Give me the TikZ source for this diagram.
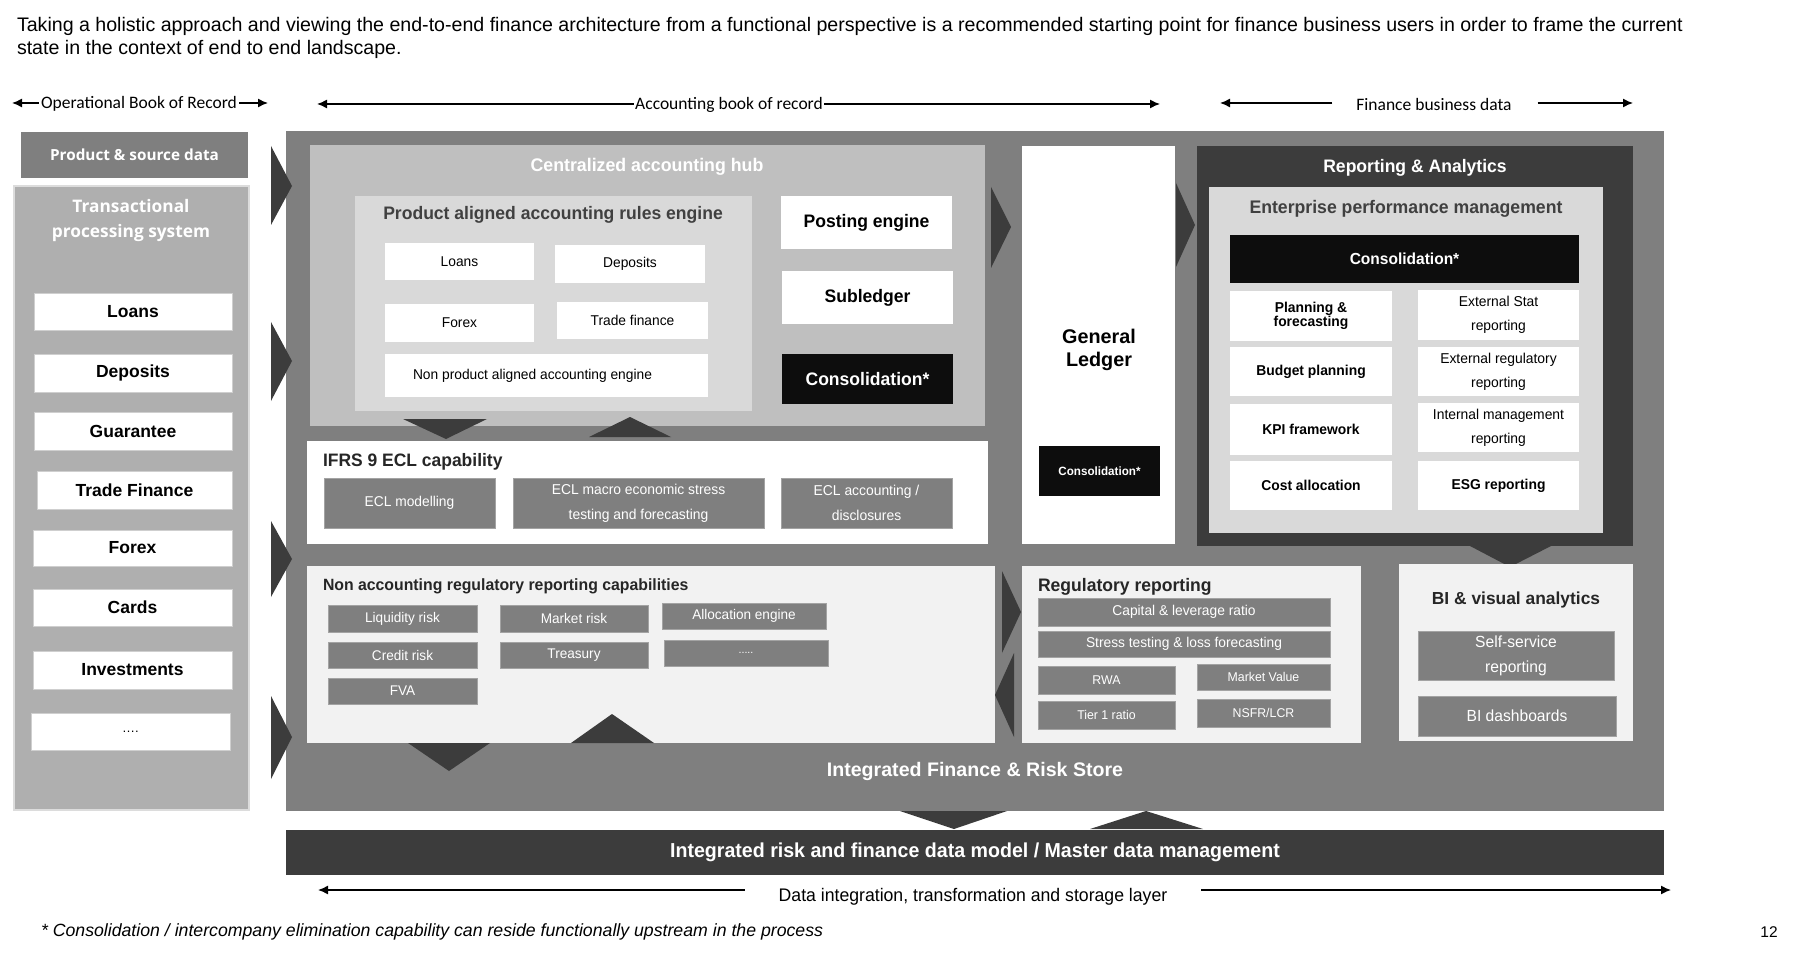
\documentclass[tikz,border=0pt]{standalone}
\usepackage{fontspec}
\setmainfont{Liberation Sans}
\newfontfamily\narrowfont[FakeStretch=0.97]{Liberation Sans}
\newfontfamily\calfont{Carlito}
\newfontfamily\opensans{Open Sans}
\usetikzlibrary{arrows.meta}

\definecolor{midgray}{HTML}{7F7F7F}
\definecolor{hubgray}{HTML}{BFBFBF}
\definecolor{panelgray}{HTML}{D9D9D9}
\definecolor{leftgray}{HTML}{AFAFAF}
\definecolor{leftedge}{HTML}{DCDCDC}
\definecolor{darkgray}{HTML}{3C3C3C}
\definecolor{nearblack}{HTML}{0D0D0D}
\definecolor{paleback}{HTML}{F2F2F2}
\definecolor{titletext}{HTML}{262626}
\definecolor{softtext}{HTML}{404040}
\definecolor{boxedge}{HTML}{CFCFCF}
\definecolor{grayedge}{HTML}{A3A3A3}

% font size helper: size and baseline skip in pt
\newcommand\fsz[2]{\fontsize{#1}{#2}\selectfont}
% box by corners: style, name, x1, y1, x2, y2, text
\newcommand\bx[7]{\node[#1,minimum width={(#5)-(#3)},minimum height={(#6)-(#4)}] (#2) at ({((#3)+(#5))/2},{((#4)+(#6))/2}) {#7};}
% filled chevron triangle
\newcommand\chev[6]{\fill[darkgray] (#1,#2) -- (#3,#4) -- (#5,#6) -- cycle;}

\begin{document}
\begin{tikzpicture}[x=1pt,y=-1pt,
  base/.style={rectangle,inner sep=0pt,outer sep=0pt,align=center},
  whitebox/.style={base,fill=white,draw=boxedge,line width=0.8pt},
  graybox/.style={base,fill=midgray,draw=grayedge,line width=0.8pt,text=white},
  blackbox/.style={base,fill=nearblack,text=white},
  plain/.style={inner sep=0pt,outer sep=0pt,align=center},
  lbl/.style={fill=white,inner sep=3pt,outer sep=0pt},
  span/.style={draw=black,line width=1.4pt},
  tip/.style={-{Latex[length=10pt,width=9pt]}},
  nb/.style={font=\narrowfont\bfseries\fsz{18.1}{20}},
  ns/.style={font=\narrowfont\fsz{14.2}{23}},
  sideitem/.style={whitebox,font=\bfseries\fsz{17.5}{20}},
]
\useasboundingbox (0,0) rectangle (1801,965);

% intro text
\node[plain,anchor=north west,align=left,font=\fsz{19.6}{23}] (intro) at (17,17)
  {Taking a holistic approach and viewing the end-to-end finance architecture from a functional perspective is a recommended starting point for finance business users in order to frame the current\\state in the context of end to end landscape.};

% scope arrows along the top
\coordinate (obrL) at (12,103);
\coordinate (obrR) at (268,103);
\draw[span,{Latex[length=10pt,width=9pt]}-{Latex[length=10pt,width=9pt]}] (obrL) -- (obrR);
\node[lbl,inner sep=2pt,font=\calfont\fsz{17.5}{20}] (obr) at (139,104) {Operational Book of Record};

\coordinate (abrL) at (317,104);
\coordinate (abrR) at (1160,104);
\draw[span,{Latex[length=10pt,width=9pt]}-{Latex[length=10pt,width=9pt]}] (abrL) -- (abrR);
\node[lbl,inner sep=1pt,font=\calfont\fsz{17.5}{20}] (abr) at (729,105) {Accounting book of record};

\node[plain,font=\calfont\fsz{17.5}{20}] (fbd) at (1434,104) {Finance business data};
\coordinate (fbdL) at (1220,103);
\coordinate (fbdR) at (1633,103);
\draw[span,tip] ([xshift=-24pt]fbd.west |- fbdL) -- (fbdL);
\draw[span,tip] ([xshift=26pt]fbd.east |- fbdR) -- (fbdR);

% operational side
\bx{base,fill=midgray,text=white,font=\opensans\bfseries\fsz{15.3}{17}}{psd}{21}{132}{248}{178}{Product \& source data}
\bx{base,fill=leftgray,draw=leftedge,line width=2.5pt}{tps}{14}{186}{249}{810}{}
\node[plain,text=white,font=\opensans\bfseries\fsz{17.3}{25}] (tpsT) at (131,221) {Transactional\\processing system};
\bx{sideitem}{tLoans}{34}{293}{232}{330}{Loans}
\bx{sideitem}{tDep}{34}{354}{232}{392}{Deposits}
\bx{sideitem}{tGuar}{34}{412}{232}{450}{Guarantee}
\bx{sideitem}{tTrade}{37}{471}{232}{509}{Trade Finance}
\bx{sideitem}{tFx}{33}{530}{232}{566}{Forex}
\bx{sideitem}{tCards}{33}{589}{232}{626}{Cards}
\bx{sideitem}{tInv}{33}{651}{232}{689}{Investments}
\bx{whitebox,font=\fsz{13}{16}}{tMore}{31}{713}{230}{750}{\dots.}

% finance and risk store
\bx{base,fill=midgray}{store}{286}{131}{1664}{811}{}
\node[plain,text=white,font=\bfseries\fsz{19.6}{22}] (storeT) at (975,771) {Integrated Finance \& Risk Store};

% feeds into the store
\chev{271}{146}{271}{225}{292}{186}
\chev{271}{322}{271}{401}{292}{361}
\chev{271}{521}{271}{597}{292}{559}
\chev{271}{696}{271}{779}{292}{737}

% centralized accounting hub
\bx{base,fill=hubgray}{hub}{310}{145}{985}{426}{}
\node[plain,text=white,font=\narrowfont\bfseries\fsz{18.3}{22}] (hubT) at (647,167) {Centralized accounting hub};
\bx{base,fill=panelgray}{rules}{355}{196}{752}{411}{}
\node[plain,text=softtext,nb] (rulesT) at (553,215) {Product aligned accounting rules engine};
\bx{whitebox,draw=none,ns}{rLoans}{385}{243}{534}{280}{Loans}
\bx{whitebox,draw=none,ns}{rDep}{555}{245}{705}{283}{Deposits}
\bx{whitebox,draw=none,ns}{rFx}{385}{304}{534}{342}{Forex}
\bx{whitebox,draw=none,ns}{rTrade}{557}{302}{708}{339}{Trade finance}
\bx{whitebox,draw=none,ns}{rNon}{385}{354}{708}{397}{\hspace*{-28pt}Non product aligned accounting engine}
\bx{whitebox,draw=none,nb}{post}{781}{196}{952}{249}{Posting engine}
\bx{whitebox,draw=none,nb}{subl}{782}{271}{953}{324}{Subledger}
\bx{blackbox,nb}{hubCons}{782}{354}{953}{404}{Consolidation*}
\chev{403}{419}{487}{419}{446}{439}
\chev{589}{437}{671}{437}{630}{417}

% IFRS 9
\bx{base,fill=white}{ifrs}{307}{441}{988}{544}{}
\node[plain,anchor=west,text=titletext,font=\narrowfont\bfseries\fsz{18}{20}] (ifrsT) at (323,462) {IFRS 9 ECL capability};
\bx{graybox,ns}{eclMod}{324}{478}{495}{528}{ECL modelling}
\bx{graybox,font=\narrowfont\fsz{14.3}{25}}{eclMac}{513}{478}{764}{528}{ECL macro economic stress\\testing and forecasting}
\bx{graybox,font=\narrowfont\fsz{14.3}{25}}{eclAcc}{781}{478}{952}{528}{ECL accounting /\\disclosures}

% non accounting regulatory reporting
\bx{base,fill=paleback}{nonacc}{307}{566}{995}{743}{}
\node[plain,anchor=west,text=titletext,font=\narrowfont\bfseries\fsz{16.3}{20}] (nonaccT) at (323,586) {Non accounting regulatory reporting capabilities};
\bx{graybox,font=\narrowfont\fsz{14}{16}}{nLiq}{328}{605}{477}{632}{Liquidity risk}
\bx{graybox,font=\narrowfont\fsz{14}{16}}{nMkt}{500}{605}{648}{632}{Market risk}
\bx{graybox,font=\narrowfont\fsz{14}{16}}{nAlloc}{662}{603}{826}{629}{Allocation engine}
\bx{graybox,font=\narrowfont\fsz{14}{16}}{nCred}{328}{642}{477}{668}{Credit risk}
\bx{graybox,font=\narrowfont\fsz{14}{16}}{nTreas}{500}{642}{648}{668}{Treasury}
\bx{graybox,font=\narrowfont\fsz{11}{14}}{nMore}{664}{640}{828}{666}{.....}
\bx{graybox,font=\narrowfont\fsz{14}{16}}{nFva}{328}{678}{477}{704}{FVA}
\chev{408}{743}{490}{743}{449}{771}
\chev{571}{743}{654}{743}{612}{714}

% general ledger
\chev{991}{187}{991}{268}{1011}{227}
\bx{base,fill=white}{gl}{1022}{146}{1175}{544}{}
\node[plain,font=\bfseries\fsz{19.8}{23}] (glT) at (1099,350) {General\\Ledger};
\bx{blackbox,font=\narrowfont\bfseries\fsz{12}{14}}{glCons}{1039}{446}{1160}{496}{Consolidation*}
\chev{1176}{183}{1176}{267}{1195}{225}

% reporting and analytics
\bx{base,fill=darkgray}{ra}{1197}{146}{1633}{546}{}
\node[plain,text=white,nb] (raT) at (1415,168) {Reporting \& Analytics};
\bx{base,fill=panelgray}{epm}{1209}{187}{1603}{533}{}
\node[plain,text=softtext,font=\narrowfont\bfseries\fsz{18.2}{20}] (epmT) at (1406,209) {Enterprise performance management};
\bx{blackbox,font=\narrowfont\bfseries\fsz{16}{19}}{epmCons}{1230}{235}{1579}{283}{Consolidation*}
\bx{whitebox,draw=none,font=\narrowfont\bfseries\fsz{14.3}{14}}{ePlan}{1230}{291}{1392}{341}{Planning \&\\forecasting}
\bx{whitebox,draw=none,font=\narrowfont\bfseries\fsz{14.3}{17}}{eBud}{1230}{347}{1392}{396}{Budget planning}
\bx{whitebox,draw=none,font=\narrowfont\bfseries\fsz{14.3}{17}}{eKpi}{1230}{404}{1392}{455}{KPI framework}
\bx{whitebox,draw=none,font=\narrowfont\bfseries\fsz{14.3}{17}}{eCost}{1230}{461}{1392}{510}{Cost allocation}
\bx{whitebox,draw=none,font=\narrowfont\fsz{14.3}{24}}{eStat}{1418}{290}{1579}{340}{External Stat\\reporting}
\bx{whitebox,draw=none,font=\narrowfont\fsz{14.3}{24}}{eReg}{1418}{347}{1579}{396}{External regulatory\\reporting}
\bx{whitebox,draw=none,font=\narrowfont\fsz{14.3}{24}}{eInt}{1418}{403}{1579}{452}{Internal management\\reporting}
\bx{whitebox,draw=none,font=\narrowfont\bfseries\fsz{14.3}{17}}{eEsg}{1418}{461}{1579}{510}{ESG reporting}
\chev{1470}{546}{1551}{546}{1510}{567}

% regulatory reporting
\chev{1002}{571}{1002}{653}{1021}{612}
\chev{1014}{653}{1014}{737}{995}{695}
\bx{base,fill=paleback}{reg}{1022}{566}{1361}{743}{}
\node[plain,anchor=west,text=titletext,nb] (regT) at (1038,587) {Regulatory reporting};
\bx{graybox,font=\narrowfont\fsz{14.2}{16}}{gCap}{1038}{598}{1330}{626}{Capital \& leverage ratio}
\bx{graybox,font=\narrowfont\fsz{14.2}{16}}{gStress}{1038}{631}{1330}{657}{Stress testing \& loss forecasting}
\bx{graybox,font=\narrowfont\fsz{12.7}{14}}{gRwa}{1038}{666}{1175}{694}{RWA}
\bx{graybox,font=\narrowfont\fsz{12.7}{14}}{gMv}{1197}{664}{1330}{690}{Market Value}
\bx{graybox,font=\narrowfont\fsz{12.7}{14}}{gTier}{1038}{701}{1175}{729}{Tier 1 ratio}
\bx{graybox,font=\narrowfont\fsz{12.7}{14}}{gNsfr}{1197}{699}{1330}{727}{NSFR/LCR}

% BI and visual analytics
\bx{base,fill=paleback}{bi}{1399}{564}{1633}{741}{}
\node[plain,text=titletext,font=\bfseries\fsz{17.4}{20}] (biT) at (1516,600) {BI \& visual analytics};
\bx{graybox,font=\narrowfont\fsz{16.1}{25}}{biSelf}{1418}{631}{1614}{680}{Self-service\\reporting}
\bx{graybox,font=\narrowfont\fsz{16.1}{19}}{biDash}{1418}{696}{1616}{736}{BI dashboards}

% data model layer
\chev{900}{811}{1007}{811}{954}{829}
\chev{1090}{829}{1203}{829}{1146}{811}
\bx{base,fill=darkgray,text=white,font=\narrowfont\bfseries\fsz{20.2}{22}}{mdm}{286}{830}{1664}{875}{Integrated risk and finance data model / Master data management}

\node[plain,font=\narrowfont\fsz{18.2}{21}] (dil) at (973,897) {Data integration, transformation and storage layer};
\coordinate (dilL) at (318,890);
\coordinate (dilR) at (1671,890);
\draw[span,tip] ([xshift=-34pt]dil.west |- dilL) -- (dilL);
\draw[span,tip] ([xshift=34pt]dil.east |- dilR) -- (dilR);

% footnote and page number
\node[plain,anchor=west,font=\itshape\fsz{17.7}{20}] (foot) at (41,932) {* Consolidation / intercompany elimination capability can reside functionally upstream in the process};
\node[plain,font=\fsz{15.5}{18}] (pageno) at (1769,932) {12};
\end{tikzpicture}
\end{document}
